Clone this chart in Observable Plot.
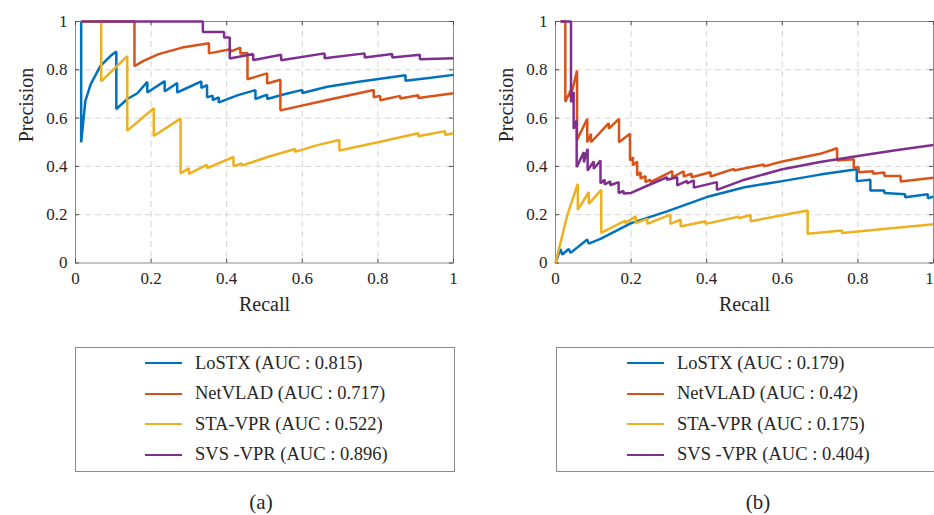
<!DOCTYPE html>
<html>
<head>
<meta charset="utf-8">
<script src="https://cdn.jsdelivr.net/npm/d3@7"></script>
<script src="https://cdn.jsdelivr.net/npm/@observablehq/plot@0.6"></script>
<style>
  body { margin: 0; background: #fff; }
  #root { position: relative; width: 934px; height: 515px; overflow: hidden; font-family: "Liberation Serif", serif; color: #262626; background: #fff; }
  .panel { position: absolute; top: 0; }
  .legend { position: absolute; top: 347px; width: 380px; height: 125px; border: 1px solid #8a8a8a; box-sizing: border-box; background: #fff; }
  .row { position: absolute; height: 30px; display: flex; align-items: center; font-size: 18.5px; white-space: nowrap; }
  .swatch { width: 37px; height: 0; border-top: 2.6px solid; margin-right: 13px; }
  .caption { position: absolute; top: 490px; font-size: 21px; transform: translateX(-50%); white-space: nowrap; }
</style>
</head>
<body>
<div id="root"></div>
<script>
// ---------- data (recall, precision) ----------
const seriesNames = ["LoSTX", "NetVLAD", "STA-VPR", "SVS -VPR"];
const seriesColors = ["#0072BD", "#D95319", "#EDB120", "#7E2F8E"];
const aucA = ["0.815", "0.717", "0.522", "0.896"];
const aucB = ["0.179", "0.42", "0.175", "0.404"];
const axisTicks = [0, 0.2, 0.4, 0.6, 0.8, 1];

// Panel (a)
const aLoSTX = [[0.015,1],[0.015,0.5],[0.026,0.67],[0.04,0.74],[0.066,0.816],[0.093,0.858],[0.108,0.876],[0.108,0.637],[0.137,0.679],[0.163,0.702],[0.19,0.75],[0.19,0.706],[0.236,0.753],[0.236,0.71],[0.269,0.745],[0.269,0.706],[0.333,0.752],[0.333,0.725],[0.348,0.737],[0.348,0.686],[0.363,0.693],[0.363,0.675],[0.379,0.686],[0.379,0.665],[0.43,0.695],[0.476,0.716],[0.476,0.679],[0.507,0.697],[0.507,0.679],[0.55,0.698],[0.6,0.717],[0.6,0.704],[0.666,0.73],[0.754,0.752],[0.873,0.777],[0.873,0.755],[0.94,0.767],[1.0,0.779]];
const aNetVLAD = [[0.015,1],[0.156,1],[0.156,0.815],[0.18,0.837],[0.22,0.865],[0.282,0.892],[0.353,0.91],[0.353,0.868],[0.41,0.885],[0.41,0.875],[0.436,0.892],[0.436,0.868],[0.455,0.87],[0.455,0.761],[0.507,0.785],[0.507,0.743],[0.542,0.759],[0.542,0.632],[0.666,0.675],[0.789,0.716],[0.789,0.686],[0.806,0.692],[0.806,0.674],[0.859,0.692],[0.859,0.681],[0.907,0.695],[0.907,0.683],[1.0,0.703]];
const aSTAVPR = [[0.015,1],[0.068,1],[0.068,0.752],[0.097,0.796],[0.137,0.857],[0.137,0.548],[0.207,0.641],[0.207,0.526],[0.278,0.598],[0.278,0.371],[0.3,0.392],[0.3,0.369],[0.348,0.407],[0.348,0.393],[0.418,0.439],[0.418,0.401],[0.44,0.412],[0.44,0.403],[0.51,0.44],[0.581,0.472],[0.581,0.46],[0.64,0.488],[0.698,0.509],[0.698,0.466],[0.8,0.5],[0.907,0.537],[0.907,0.525],[0.978,0.546],[0.978,0.53],[1.0,0.537]];
const aSVSVPR = [[0.015,1],[0.337,1],[0.337,0.957],[0.393,0.957],[0.393,0.934],[0.408,0.934],[0.408,0.847],[0.47,0.865],[0.47,0.84],[0.544,0.862],[0.544,0.84],[0.659,0.868],[0.659,0.848],[0.765,0.868],[0.765,0.851],[0.838,0.865],[0.838,0.851],[0.911,0.862],[0.911,0.844],[1.0,0.848]];

// Panel (b)
const bLoSTX = [[0,0],[0.013,0.058],[0.018,0.035],[0.035,0.058],[0.04,0.042],[0.084,0.097],[0.088,0.08],[0.119,0.1],[0.2,0.165],[0.295,0.214],[0.4,0.273],[0.5,0.314],[0.6,0.339],[0.7,0.366],[0.797,0.388],[0.797,0.339],[0.833,0.345],[0.833,0.3],[0.87,0.3],[0.87,0.29],[0.925,0.285],[0.925,0.272],[0.985,0.285],[0.985,0.268],[1.0,0.275]];
const bNetVLAD = [[0.013,1],[0.026,1],[0.026,0.668],[0.04,0.714],[0.04,0.687],[0.057,0.797],[0.057,0.51],[0.084,0.597],[0.084,0.5],[0.094,0.535],[0.094,0.5],[0.141,0.579],[0.141,0.556],[0.168,0.597],[0.168,0.5],[0.197,0.535],[0.197,0.424],[0.205,0.438],[0.205,0.404],[0.216,0.42],[0.216,0.362],[0.225,0.376],[0.225,0.349],[0.238,0.36],[0.238,0.335],[0.251,0.345],[0.251,0.335],[0.309,0.38],[0.309,0.355],[0.339,0.38],[0.339,0.358],[0.36,0.37],[0.36,0.355],[0.41,0.376],[0.41,0.358],[0.472,0.39],[0.472,0.383],[0.551,0.408],[0.551,0.4],[0.6,0.42],[0.7,0.452],[0.745,0.475],[0.745,0.424],[0.789,0.43],[0.789,0.394],[0.802,0.397],[0.802,0.376],[0.84,0.38],[0.84,0.37],[0.87,0.375],[0.87,0.36],[0.913,0.36],[0.913,0.337],[1.0,0.353]];
const bSTAVPR = [[0,0],[0.031,0.197],[0.059,0.328],[0.059,0.22],[0.088,0.294],[0.088,0.245],[0.121,0.303],[0.121,0.125],[0.185,0.176],[0.185,0.165],[0.212,0.193],[0.212,0.165],[0.243,0.183],[0.243,0.162],[0.304,0.2],[0.304,0.162],[0.331,0.179],[0.331,0.151],[0.397,0.173],[0.397,0.162],[0.485,0.192],[0.485,0.185],[0.516,0.199],[0.516,0.173],[0.667,0.217],[0.667,0.121],[0.758,0.135],[0.758,0.124],[1.0,0.16]];
const bSVSVPR = [[0.013,1],[0.041,1],[0.041,0.666],[0.048,0.708],[0.048,0.556],[0.056,0.59],[0.056,0.397],[0.075,0.459],[0.075,0.417],[0.085,0.473],[0.085,0.383],[0.101,0.421],[0.101,0.39],[0.119,0.424],[0.119,0.33],[0.13,0.345],[0.13,0.325],[0.145,0.338],[0.145,0.322],[0.167,0.335],[0.167,0.29],[0.18,0.298],[0.18,0.288],[0.2,0.29],[0.25,0.325],[0.295,0.355],[0.295,0.345],[0.322,0.355],[0.322,0.321],[0.348,0.34],[0.348,0.33],[0.366,0.342],[0.366,0.312],[0.427,0.335],[0.427,0.303],[0.5,0.345],[0.6,0.388],[0.7,0.418],[0.8,0.443],[0.9,0.467],[1.0,0.489]];

// ---------- drawing ----------
const fmt = d => d === 0 ? "0" : d === 1 ? "1" : d.toFixed(1);
const H = 330, MT = 21, MB = 67.5;

function makePanel(series, W, ML, MR, lastTickShift) {
  const plotW = W - ML - MR, plotH = H - MT - MB;
  const tickStroke = "#4d4d4d";
  const innerTicks = axisTicks.slice(0, -1);
  const lastTick = axisTicks.slice(-1);
  return Plot.plot({
    width: W, height: H,
    marginLeft: ML, marginRight: MR, marginTop: MT, marginBottom: MB,
    x: {domain: [0, 1]},
    y: {domain: [0, 1]},
    style: {fontFamily: "Liberation Serif, serif", fontSize: "17px", color: "#262626", background: "transparent", overflow: "visible"},
    marks: [
      Plot.gridX(axisTicks.slice(1, -1), {stroke: "#d6d6d6", strokeOpacity: 1, strokeDasharray: "6,4"}),
      Plot.gridY(axisTicks.slice(1, -1), {stroke: "#d6d6d6", strokeOpacity: 1, strokeDasharray: "6,4"}),
      Plot.frame({stroke: "#8a8a8a", strokeWidth: 1}),
      Plot.tickY(axisTicks, {y: d => d, insetRight: plotW - 4, stroke: tickStroke}),
      Plot.tickY(axisTicks, {y: d => d, insetLeft: plotW - 4, stroke: tickStroke}),
      Plot.tickX(axisTicks, {x: d => d, insetTop: plotH - 4, stroke: tickStroke}),
      Plot.tickX(axisTicks, {x: d => d, insetBottom: plotH - 4, stroke: tickStroke}),
      ...series.map((s, i) => Plot.line(s, {x: d => d[0], y: d => d[1], stroke: seriesColors[i], strokeWidth: 2.5, strokeLinejoin: "miter", strokeLinecap: "butt"})),
      Plot.axisX(innerTicks, {tickSize: 0, tickPadding: 9, tickFormat: fmt, label: null, fontSize: 17}),
      Plot.axisX(lastTick, {tickSize: 0, tickPadding: 9, tickFormat: fmt, label: null, fontSize: 17, dx: lastTickShift}),
      Plot.axisY(axisTicks, {tickSize: 0, tickPadding: 8, tickFormat: fmt, label: null, fontSize: 17}),
      Plot.text(["Recall"], {text: d => d, frameAnchor: "bottom", dy: 47.5, fontSize: 20, fill: "#262626"}),
      Plot.text(["Precision"], {text: d => d, frameAnchor: "left", dx: -49, rotate: -90, fontSize: 20, fill: "#262626"})
    ]
  });
}

const root = document.getElementById("root");

function addPanel(left, W, ML, MR, lastTickShift, series, aucs, legendLeft, rowLeft, capX, capText) {
  const div = document.createElement("div");
  div.className = "panel";
  div.style.left = left + "px";
  div.appendChild(makePanel(series, W, ML, MR, lastTickShift));
  root.appendChild(div);

  const leg = document.createElement("div");
  leg.className = "legend";
  leg.style.left = legendLeft + "px";
  seriesNames.forEach((name, i) => {
    const row = document.createElement("div");
    row.className = "row";
    row.style.left = rowLeft + "px";
    row.style.top = (i * 30.5) + "px";
    const sw = document.createElement("span");
    sw.className = "swatch";
    sw.style.borderTopColor = seriesColors[i];
    const tx = document.createElement("span");
    tx.textContent = `${name} (AUC : ${aucs[i]})`;
    row.appendChild(sw);
    row.appendChild(tx);
    leg.appendChild(row);
  });
  root.appendChild(leg);

  const cap = document.createElement("div");
  cap.className = "caption";
  cap.style.left = capX + "px";
  cap.textContent = capText;
  root.appendChild(cap);
}

addPanel(0, 470, 75, 17, 0, [aLoSTX, aNetVLAD, aSTAVPR, aSVSVPR], aucA, 75, 69, 261, "(a)");
addPanel(470, 464, 85, 1, -4, [bLoSTX, bNetVLAD, bSTAVPR, bSVSVPR], aucB, 556, 70, 758, "(b)");
</script>
</body>
</html>
